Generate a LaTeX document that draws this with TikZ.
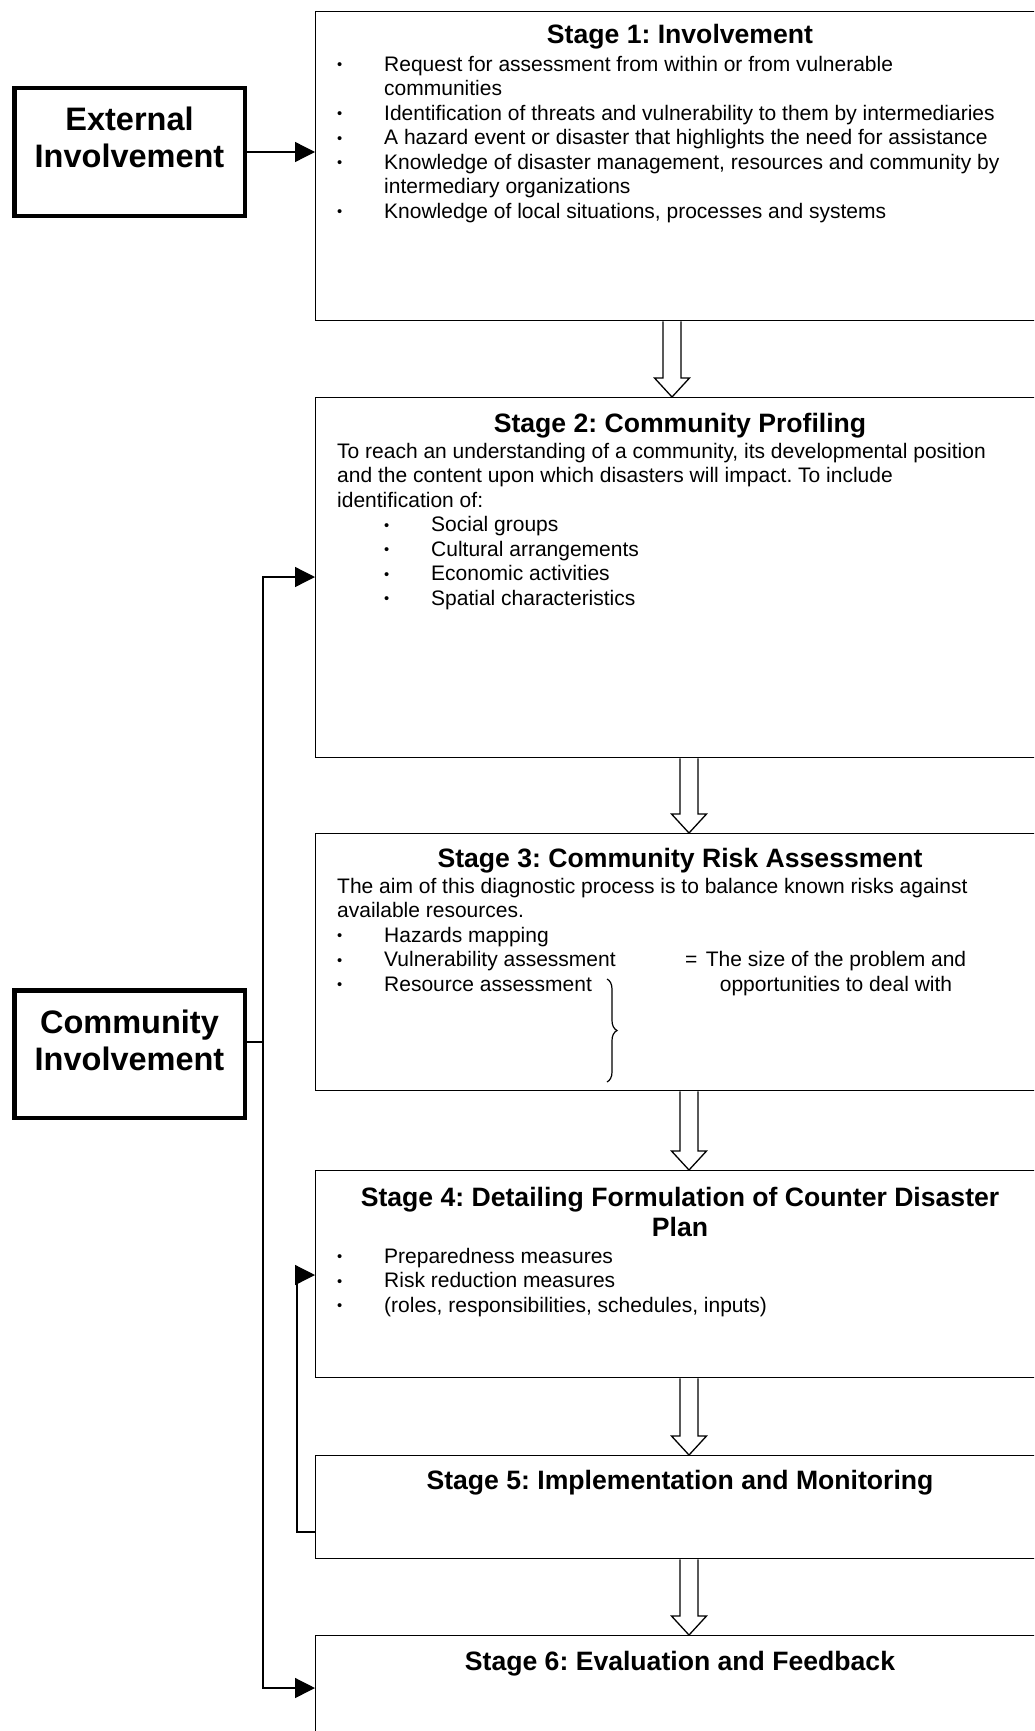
\documentclass[tikz,border=0pt]{standalone}
\usepackage{fontspec}
\setmainfont{Liberation Sans}
\usepackage{graphicx}
\usetikzlibrary{arrows.meta, positioning, calc, decorations.pathreplacing}
\frenchspacing

\newcommand{\bul}{\makebox[47pt][l]{\raisebox{0.08em}{\scalebox{0.7}{\textbullet}}}}
% open block arrow between two named points
\newcommand{\hollowarrow}[2]{%
  \draw[line width=1.3pt, fill=white, line join=miter]
    ($(#1)+(-9,0)$) -- ($(#2)+(-9,-19)$) -- ($(#2)+(-17.5,-19)$) -- (#2)
    -- ($(#2)+(17.5,-19)$) -- ($(#2)+(9,-19)$) -- ($(#1)+(9,0)$);}

\begin{document}
\begin{tikzpicture}[x=1pt, y=-1pt,
    stagebox/.style={draw, line width=1.4pt, anchor=north west, minimum width=730pt, inner sep=0pt},
    sidebox/.style={draw, line width=4.5pt, minimum width=230.5pt, minimum height=127.5pt, inner sep=0pt},
    titletext/.style={font=\bfseries\fontsize{26.6}{30}\selectfont, inner sep=0pt},
    bodytext/.style={font=\fontsize{21}{24.5}\selectfont, align=left, anchor=north west, inner sep=0pt},
    sidetext/.style={font=\bfseries\fontsize{32.5}{37}\selectfont, align=center, anchor=north, inner sep=0pt},
    flow/.style={line width=1.3pt, -{Triangle[length=20pt, width=20pt]}}]
  \useasboundingbox (0,0) rectangle (1034,1731);
  \clip (0,0) rectangle (1034,1731);

  % stages
  \node[stagebox, minimum height=309pt] (involve) at (315,11) {};
  \node[stagebox, minimum height=360pt] (profile) at (315,397) {};
  \node[stagebox, minimum height=257pt] (riskassess) at (315,833) {};
  \node[stagebox, minimum height=207pt] (plan) at (315,1170) {};
  \node[stagebox, minimum height=103pt] (implement) at (315,1455) {};
  \node[stagebox, minimum height=200pt] (evaluate) at (315,1635) {};

  \node[titletext, anchor=base] (involvetitle) at (680,44) {Stage 1: Involvement};
  \node[bodytext] (involvebody) at (337,53.85) {\bul\strut Request for assessment from within or from vulnerable\\
    \hspace*{47pt}communities\\
    \bul Identification of threats and vulnerability to them by intermediaries\\
    \bul A hazard event or disaster that highlights the need for assistance\\
    \bul Knowledge of disaster management, resources and community by\\
    \hspace*{47pt}intermediary organizations\\
    \bul Knowledge of local situations, processes and systems};

  \node[titletext, anchor=base] (profiletitle) at (680,432) {Stage 2: Community Profiling};
  \node[bodytext] (profilebody) at (337,440.85) {\strut To reach an understanding of a community, its developmental position\\
    and the content upon which disasters will impact. To include\\
    identification of:\\
    \hspace*{47pt}\bul Social groups\\
    \hspace*{47pt}\bul Cultural arrangements\\
    \hspace*{47pt}\bul Economic activities\\
    \hspace*{47pt}\bul Spatial characteristics};

  \node[titletext, anchor=base] (risktitle) at (680,867) {Stage 3: Community Risk Assessment};
  \node[bodytext] (riskbody) at (337,875.85) {\strut The aim of this diagnostic process is to balance known risks against\\
    available resources.\\
    \bul Hazards mapping\\
    \bul Vulnerability assessment\\
    \bul Resource assessment};
  \node[font=\fontsize{21}{24.5}\selectfont, anchor=base west, inner sep=0pt] (eqsign) at (685,966.5) {=};
  \node[bodytext, align=center, anchor=north] (sizetext) at (836,949.35) {\strut The size of the problem and\\
    opportunities to deal with};
  \draw[line width=1.2pt, decorate, decoration={brace, amplitude=10pt}] (607,979) -- (607,1082);

  \node[titletext, align=center, anchor=north] (plantitle) at (680,1185) {\strut Stage 4: Detailing Formulation of Counter Disaster\\
    Plan};
  \node[bodytext] (planbody) at (337,1245.85) {\bul\strut Preparedness measures\\
    \bul Risk reduction measures\\
    \bul (roles, responsibilities, schedules, inputs)};

  \node[titletext, anchor=base] (implementtitle) at (680,1489) {Stage 5: Implementation and Monitoring};
  \node[titletext, anchor=base] (evaluatetitle) at (680,1670) {Stage 6: Evaluation and Feedback};

  % side boxes
  \node[sidebox] (ext) at (129.5,152) {};
  \node[sidetext] (extlabel) at (129.5,104.1) {\strut External\\Involvement};
  \node[sidebox] (comm) at (129.5,1054) {};
  \node[sidetext] (commlabel) at (129.5,1007.1) {\strut Community\\Involvement};

  % block arrows between stages
  \coordinate (axa) at (672,0);
  \coordinate (axb) at (689,0);
  \foreach \a/\b/\x in {involve/profile/axa, profile/riskassess/axb, riskassess/plan/axb,
      plan/implement/axb, implement/evaluate/axb}
    \hollowarrow{\a.south -| \x}{\b.north -| \x};

  % involvement arrows
  \draw[flow] (ext) -- (ext -| involve.west);
  \coordinate (bus) at (263,1042);
  \coordinate (inprofile) at ($(profile.north west)+(0,180)$);
  \coordinate (inevaluate) at ($(evaluate.north west)+(0,53)$);
  \draw[line width=1.3pt] (comm.east |- bus) -- (bus);
  \draw[flow] (bus) |- (inprofile);
  \draw[flow] (bus) |- (inevaluate);

  % feedback loop
  \coordinate (outimplement) at ($(implement.north west)+(0,77)$);
  \coordinate (inplan) at ($(plan.north west)+(0,105)$);
  \draw[flow] (outimplement) -- ++(-18,0) |- (inplan);
\end{tikzpicture}
\end{document}
